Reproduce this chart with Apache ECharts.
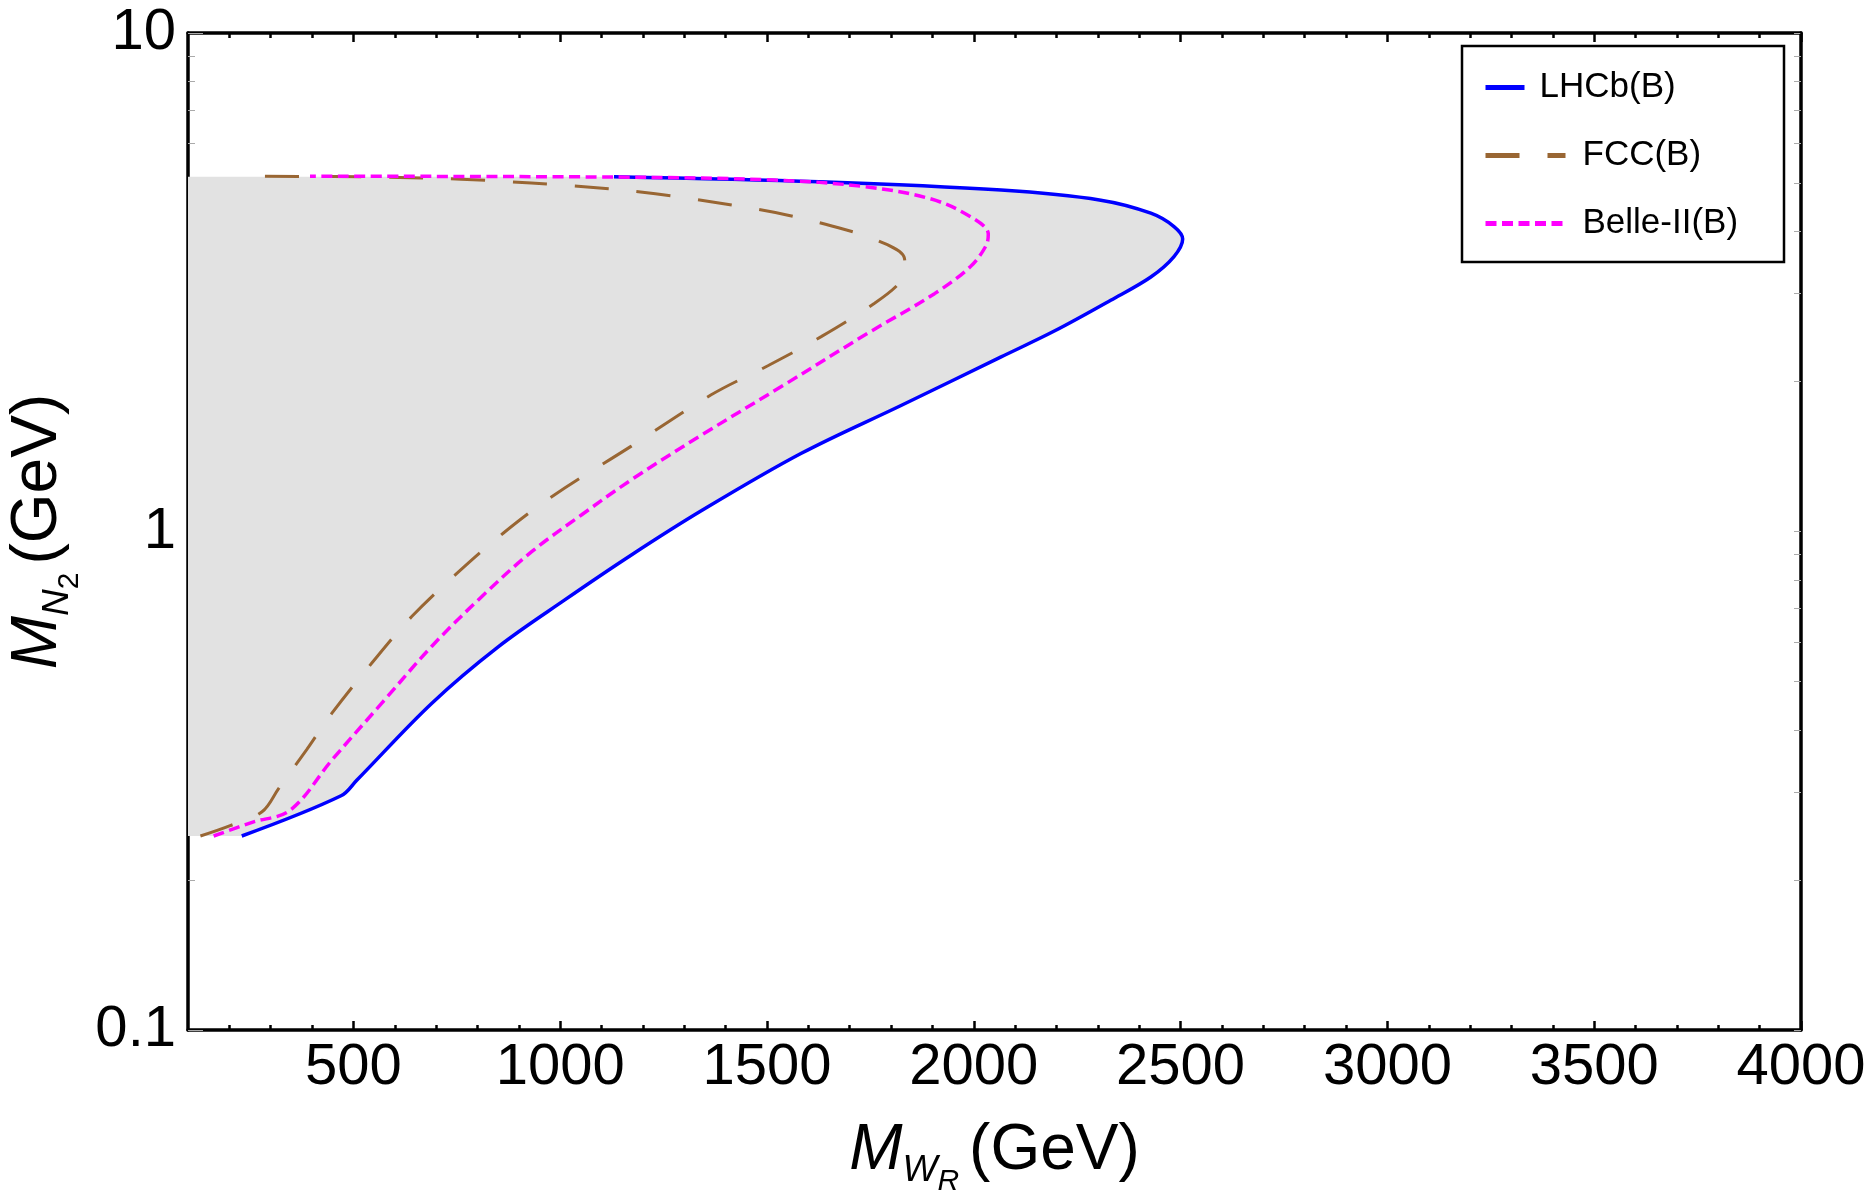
<!DOCTYPE html>
<html>
<head>
<meta charset="utf-8">
<script src="https://cdn.jsdelivr.net/npm/echarts/dist/echarts.min.js"></script>
<style>
  html, body { margin: 0; padding: 0; background: #fff; }
  #chart { width: 1875px; height: 1200px; }
</style>
</head>
<body>
<div id="chart"></div>
<script>
// curves, [M_WR (GeV), M_N2 (GeV)], from the low end round the nose to the top
const lhcb = [
  [230, 0.245], [470, 0.295], [508, 0.317], [689, 0.452], [850, 0.587],
  [1011, 0.729], [1172, 0.897], [1341, 1.10], [1583, 1.435], [1824, 1.79], [2066, 2.24],
  [2197, 2.53], [2331, 2.91], [2428, 3.24], [2484, 3.56], [2505, 3.86], [2484, 4.09],
  [2428, 4.35], [2307, 4.62], [2066, 4.84], [1626, 5.03], [1130, 5.15]
]
const fcc = [
  [130, 0.245], [202, 0.257], [279, 0.274], [319, 0.305], [387, 0.365], [448, 0.432],
  [544, 0.544], [641, 0.675], [750, 0.824], [862, 0.992], [983, 1.18], [1170, 1.48],
  [1365, 1.88], [1502, 2.15], [1631, 2.46], [1760, 2.87], [1820, 3.15], [1834, 3.35],
  [1831, 3.56], [1766, 3.84], [1690, 4.03], [1545, 4.32], [1399, 4.54], [1230, 4.76],
  [1080, 4.90], [930, 5.00], [760, 5.09], [570, 5.14], [263, 5.16]
]
const belle = [
  [162, 0.245], [255, 0.261], [347, 0.276], [448, 0.348], [568, 0.452], [689, 0.588],
  [810, 0.740], [931, 0.911], [1051, 1.079], [1172, 1.27], [1341, 1.56], [1542, 1.97],
  [1744, 2.50], [1905, 3.00], [1992, 3.40], [2030, 3.75], [2035, 3.95], [1992, 4.28],
  [1895, 4.65], [1734, 4.92], [1518, 5.07], [1131, 5.14], [395, 5.16]
]
// shaded region: left edge of the plot closed by the LHCb curve
const shadeBottom = [100, 0.245]
const shadeTop = [100, 5.15]

const xMajor = [500, 1000, 1500, 2000, 2500, 3000, 3500, 4000]
const xMinor = [200, 300, 400, 600, 700, 800, 900, 1100, 1200, 1300, 1400, 1600, 1700, 1800, 1900,
  2100, 2200, 2300, 2400, 2600, 2700, 2800, 2900, 3100, 3200, 3300, 3400, 3600, 3700, 3800, 3900]
const yMajor = [0.1, 1, 10]
const yMinor = [0.2, 0.3, 0.4, 0.5, 0.6, 0.7, 0.8, 0.9, 2, 3, 4, 5, 6, 7, 8, 9]

const FONT = 'Liberation Sans'
const chart = echarts.init(document.getElementById('chart'), null, { renderer: 'canvas' })

function xAxisOf (position, ticks, len, withLine, withLabel) {
  return {
    type: 'value', min: 100, max: 4000, position,
    axisLine: { show: withLine, onZero: false, lineStyle: { color: '#000', width: 3.5 } },
    axisTick: { show: true, inside: true, length: len, customValues: ticks, lineStyle: { color: '#000', width: 2.5 } },
    axisLabel: withLabel
      ? { show: true, customValues: ticks, fontSize: 58, color: '#000', fontFamily: FONT, margin: 9, formatter: v => String(v) }
      : { show: false },
    splitLine: { show: false }
  }
}
function yAxisOf (position, ticks, len, withLine, withLabel) {
  return {
    type: 'log', logBase: 10, min: 0.1, max: 10, position,
    axisLine: { show: withLine, onZero: false, lineStyle: { color: '#000', width: 3.5 } },
    axisTick: { show: true, inside: true, length: len, customValues: ticks, lineStyle: { color: '#aaa', width: 1 } },
    axisLabel: withLabel
      ? { show: true, customValues: ticks, fontSize: 58, color: '#000', fontFamily: FONT, margin: 12, formatter: v => String(v) }
      : { show: false },
    splitLine: { show: false }
  }
}

const nameRich = {
  m: { fontSize: 64, fontStyle: 'italic', lineHeight: 64, verticalAlign: 'top', fontFamily: FONT, color: '#000' },
  s: { fontSize: 37, fontStyle: 'italic', lineHeight: 37, verticalAlign: 'top', padding: [33, 0, 0, 0], fontFamily: FONT, color: '#000' },
  r: { fontSize: 30, fontStyle: 'italic', lineHeight: 30, verticalAlign: 'top', padding: [48, 10, 0, 0], fontFamily: FONT, color: '#000' },
  d: { fontSize: 30, lineHeight: 30, verticalAlign: 'top', padding: [48, 8, 0, 0], fontFamily: FONT, color: '#000' },
  n: { fontSize: 64, lineHeight: 64, verticalAlign: 'top', fontFamily: FONT, color: '#000' }
}

const xMain = xAxisOf('bottom', xMajor, 9, true, true)
xMain.name = '{m|M}{s|W}{r|R}{n|(GeV)}'
xMain.nameLocation = 'middle'
xMain.nameGap = 89
xMain.nameTextStyle = { rich: nameRich }

const yMain = yAxisOf('left', yMajor, 15, true, true)
yMain.name = '{m|M}{s|N}{d|2}{n|(GeV)}'
yMain.nameLocation = 'middle'
yMain.nameGap = 107
yMain.nameTextStyle = { rich: nameRich }

const lineBase = { type: 'line', xAxisIndex: 0, yAxisIndex: 0, symbol: 'none', smooth: 0.35, silent: true }

function legendOf (name, top, iconW, textPad) {
  return {
    data: [name], left: 1483, top, padding: 0, itemWidth: iconW, itemHeight: 34,
    selectedMode: false, lineStyle: { width: 5 }, itemStyle: { opacity: 0 },
    textStyle: { fontSize: 35, color: '#000', fontFamily: FONT, padding: [0, 0, 0, textPad] }
  }
}

chart.setOption({
  animation: false,
  backgroundColor: '#fff',
  textStyle: { fontFamily: FONT },
  grid: { left: 188, right: 74, top: 33, bottom: 170, containLabel: false, outerBoundsMode: 'none' },
  xAxis: [
    xMain,
    xAxisOf('bottom', xMinor, 5, false, false),
    xAxisOf('top', xMajor, 9, true, false),
    xAxisOf('top', xMinor, 5, false, false)
  ],
  yAxis: [
    yMain,
    yAxisOf('left', yMinor, 7, false, false),
    yAxisOf('right', yMajor, 7, true, false),
    yAxisOf('right', yMinor, 7, false, false)
  ],
  legend: [
    legendOf('LHCb(B)', 70, 39, 10),
    legendOf('FCC(B)', 138, 80, 12),
    legendOf('Belle-II(B)', 206, 80, 12)
  ],
  graphic: [{
    type: 'rect', z: 3,
    shape: { x: 1462, y: 46, width: 322, height: 216 },
    style: { fill: '#fff', stroke: '#000', lineWidth: 2.5 }
  }],
  series: [
    {
      type: 'custom', xAxisIndex: 0, yAxisIndex: 0, silent: true, z: 1,
      data: [shadeBottom].concat(lhcb, [shadeTop]),
      renderItem: function (params, api) {
        if (params.dataIndex !== 0) return null
        const pts = [shadeBottom].concat(lhcb, [shadeTop]).map(p => api.coord(p))
        return {
          type: 'polygon',
          shape: { points: pts, smooth: 0 },
          style: { fill: '#e2e2e2', stroke: null }
        }
      }
    },
    { ...lineBase, name: 'LHCb(B)', data: lhcb, z: 2, lineStyle: { color: '#0000ff', width: 3.5 }, itemStyle: { color: '#0000ff' } },
    { ...lineBase, name: 'FCC(B)', data: fcc, z: 3, lineStyle: { color: '#996633', width: 3, type: [34, 28] }, itemStyle: { color: '#996633' } },
    { ...lineBase, name: 'Belle-II(B)', data: belle, z: 4, lineStyle: { color: '#ff00ff', width: 3.5, type: [11, 5.5] }, itemStyle: { color: '#ff00ff' } }
  ]
})
</script>
</body>
</html>
